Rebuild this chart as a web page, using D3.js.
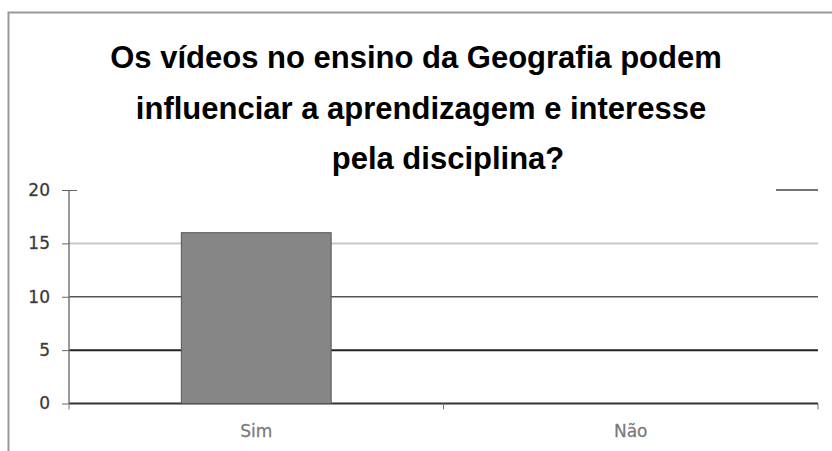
<!DOCTYPE html>
<html><head><meta charset="utf-8">
<script src="https://cdn.jsdelivr.net/npm/d3@7"></script>
<style>body{margin:0;background:#fff}svg{display:block}</style>
</head><body>
<script>
const categories = ["Sim", "Não"];
const values = [16, 0];
const yTicks = [0, 5, 10, 15, 20];
const titleLines = ["Os vídeos no ensino da Geografia podem", "influenciar a aprendizagem e interesse", "pela disciplina?"];

const W = 832, H = 451;
const svg = d3.select("body").append("svg").attr("width", W).attr("height", H);

// outer frame
svg.append("path").attr("d", "M8.5,451V12.5H832").attr("fill","none").attr("stroke","#9a9a9a").attr("stroke-width",2);

// title
const titleX = [416, 421, 448];
const titleY = [68, 119, 169];
svg.selectAll("text.title").data(titleLines).join("text")
  .attr("class","title")
  .attr("x",(d,i)=>titleX[i]).attr("y",(d,i)=>titleY[i])
  .attr("text-anchor","middle")
  .attr("font-family","Liberation Sans, Arial, sans-serif")
  .attr("font-weight","bold").attr("font-size",31).attr("fill","#000")
  .text(d=>d);

const x0 = 69, x1 = 818, yTop = 190, yBot = 403.5;
const x = d3.scaleBand().domain(categories).range([x0, x1]).paddingInner(0.6).paddingOuter(0.3);
const y = d3.scaleLinear().domain([0, 20]).range([yBot, yTop]);

// gridlines
const gridColor = {0:"#333",5:"#222",10:"#555",15:"#c8c8c8"};
const gridW = {0:2,5:2,10:1.6,15:2};
svg.selectAll("line.grid").data(yTicks.filter(t=>t<20)).join("line")
  .attr("x1",x0).attr("x2",x1).attr("y1",d=>y(d)).attr("y2",d=>y(d))
  .attr("stroke",d=>gridColor[d]).attr("stroke-width",d=>gridW[d]);
// partial top gridline
svg.append("line").attr("x1",776).attr("x2",x1).attr("y1",y(20)).attr("y2",y(20))
  .attr("stroke","#444").attr("stroke-width",1.5);

// y axis
const yAxis = svg.append("g").attr("transform",`translate(${x0},0)`)
  .call(d3.axisLeft(y).tickValues(yTicks).tickSize(7).tickPadding(12));
yAxis.select(".domain").attr("stroke","#777").attr("stroke-width",1.5).attr("d",`M0,${yTop}V${yBot}`);
yAxis.selectAll(".tick line").attr("stroke","#666");
yAxis.selectAll(".tick").filter(d=>d===20).select("line").attr("x2",8).attr("x1",-7);
yAxis.selectAll("text").attr("font-family","DejaVu Sans, Verdana, sans-serif").attr("font-size",17)
  .attr("fill","#333").attr("stroke","#555").attr("stroke-width",0.3);

// bars
svg.selectAll("rect.bar").data(categories).join("rect")
  .attr("class","bar")
  .attr("x",d=>x(d)).attr("width",x.bandwidth())
  .attr("y",(d,i)=>y(values[i])).attr("height",(d,i)=>yBot-y(values[i]))
  .attr("fill","#868686").attr("stroke","#555").attr("stroke-width",1);

// x axis
const xAxis = svg.append("g").attr("transform",`translate(0,${yBot})`)
  .call(d3.axisBottom(x).tickSize(0).tickPadding(21));
xAxis.select(".domain").remove();
const bounds = [x0, (x0+x1)/2, x1];
xAxis.selectAll("line.sep").data(bounds).join("line").attr("class","sep")
  .attr("x1",d=>d).attr("x2",d=>d).attr("y1",0).attr("y2",6).attr("stroke","#777");
xAxis.selectAll(".tick text").attr("font-family","DejaVu Sans, Verdana, sans-serif").attr("font-size",17)
  .attr("fill","#777").attr("stroke","#888").attr("stroke-width",0.3);
</script>
</body></html>
